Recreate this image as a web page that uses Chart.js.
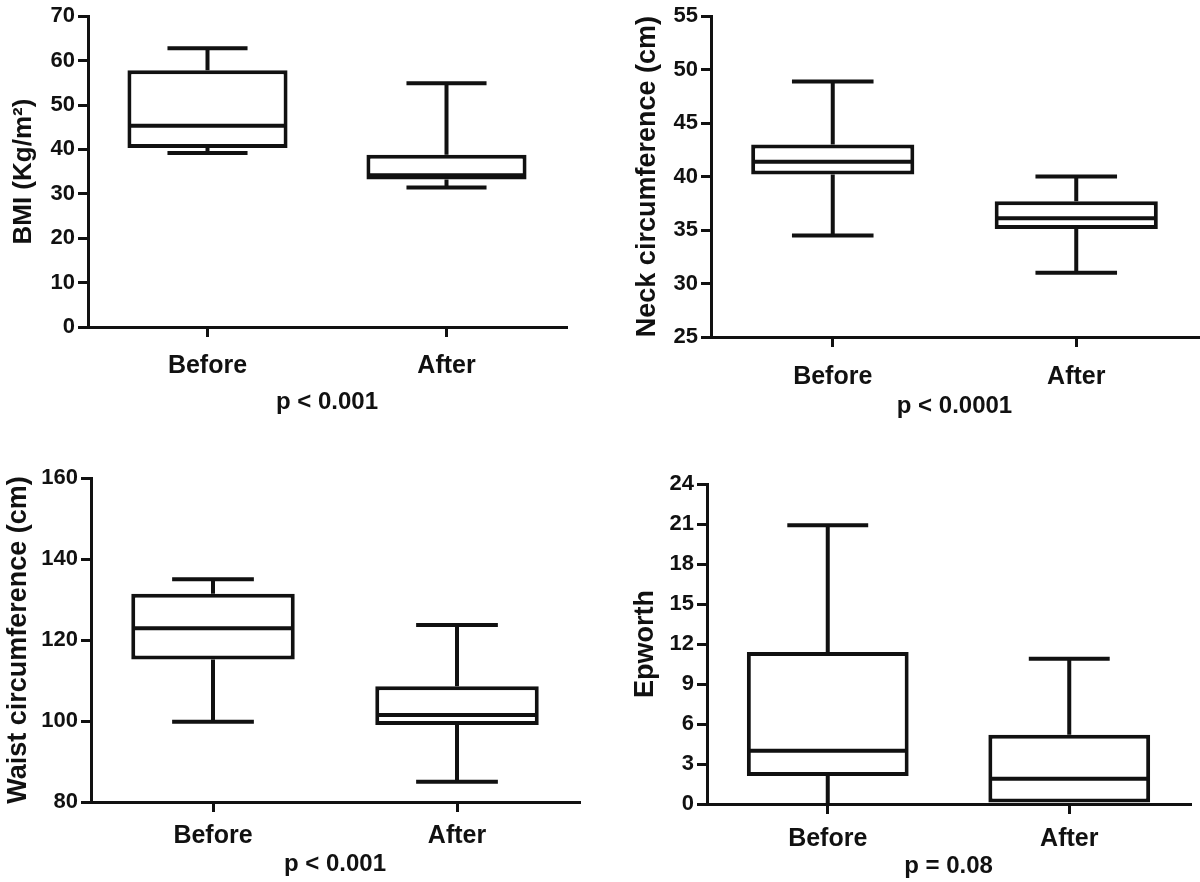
<!DOCTYPE html>
<html>
<head>
<meta charset="utf-8">
<script src="https://cdn.jsdelivr.net/npm/chart.js@4.4.1/dist/chart.umd.min.js"></script>
<style>
html, body { margin: 0; padding: 0; background: #fff; }
#wrap { position: relative; width: 1200px; height: 882px; overflow: hidden; }
.panel { position: absolute; width: 600px; height: 441px; }
.panel canvas { display: block; }
</style>
</head>
<body>
<div id="wrap">
	<div class="panel" style="left:0;top:0"><canvas id="c-bmi" width="600" height="441"></canvas></div>
	<div class="panel" style="left:600px;top:0"><canvas id="c-neck" width="600" height="441"></canvas></div>
	<div class="panel" style="left:0;top:441px"><canvas id="c-waist" width="600" height="441"></canvas></div>
	<div class="panel" style="left:600px;top:441px"><canvas id="c-epw" width="600" height="441"></canvas></div>
</div>
<script>
// Categorie
var categories = ['Before', 'After'];

// Box plot: [min, Q1, mediana, Q3, max]
var bmiBefore = [39.2, 40.3, 45.3, 57.8, 62.8];
var bmiAfter = [31.4, 33.2, 34.2, 38.8, 54.9];

var neckBefore = [34.5, 40.2, 41.4, 43.0, 48.9];
var neckAfter = [31.0, 35.1, 36.1, 37.7, 40.0];

var waistBefore = [99.8, 115.2, 122.9, 131.4, 135.0];
var waistAfter = [85.0, 99.0, 101.5, 108.6, 123.7];

var epwBefore = [0, 2.1, 4.0, 11.4, 20.9];
var epwAfter = [0, 0, 1.9, 5.2, 10.9];

// Assi y: [min, max, passo]
var bmiTicks = [0, 70, 10];
var neckTicks = [25, 55, 5];
var waistTicks = [80, 160, 20];
var epwTicks = [0, 24, 3];

var FONT = "'Liberation Sans', Arial, sans-serif";
var INK = '#111';

function $each(arr, fn) { for (var i = 0; i < arr.length; i++) fn(i, arr[i]); }

// baffi e mediana disegnati sulle scale del grafico
var boxWhiskers = {
	id: 'boxWhiskers',
	afterDatasetsDraw: function(chart) {
		var ctx = chart.ctx;
		var y = chart.scales.y;
		var stats = chart.data.datasets[0].stats;
		ctx.save();
		ctx.strokeStyle = INK;
		ctx.lineWidth = 4;
		ctx.lineCap = 'butt';
		$each(chart.getDatasetMeta(0).data, function(i, bar) {
			var s = stats[i];
			var p = bar.getProps(['x', 'width'], true);
			var half = p.width / 2, cap = p.width / 4;
			var yMin = y.getPixelForValue(s[0]);
			var yQ1 = y.getPixelForValue(s[1]);
			var yMed = y.getPixelForValue(s[2]);
			var yQ3 = y.getPixelForValue(s[3]);
			var yMax = y.getPixelForValue(s[4]);
			ctx.beginPath();
			// baffo inferiore (niente cappello se coincide con l'asse)
			if (s[1] > s[0]) {
				ctx.moveTo(p.x, yQ1); ctx.lineTo(p.x, yMin);
				if (s[0] > y.min) { ctx.moveTo(p.x - cap, yMin); ctx.lineTo(p.x + cap, yMin); }
			}
			// baffo superiore
			ctx.moveTo(p.x, yQ3); ctx.lineTo(p.x, yMax);
			ctx.moveTo(p.x - cap, yMax); ctx.lineTo(p.x + cap, yMax);
			// mediana
			ctx.moveTo(p.x - half + 2, yMed); ctx.lineTo(p.x + half - 2, yMed);
			ctx.stroke();
		});
		ctx.restore();
	}
};

const draw_boxChart = function(id, yTitle, pText, before, after, ticks, lay) {
	var ctx = document.getElementById(id).getContext('2d');
	var stats = [before, after];
	var boxes = [];
	$each(stats, function(i, s) { boxes.push([s[1], s[3]]); });

	return new Chart(ctx, {
		type: 'bar',
		data: {
			labels: categories,
			datasets: [{
				data: boxes,
				stats: stats,
				backgroundColor: '#fff',
				borderColor: INK,
				borderWidth: 4,
				borderSkipped: false,
				barPercentage: 0.67,
				categoryPercentage: 1.0
			}]
		},
		options: {
			responsive: false,
			animation: false,
			devicePixelRatio: 1,
			layout: { padding: { left: 0, top: lay.top, right: lay.right, bottom: 0 } },
			plugins: { legend: { display: false }, tooltip: { enabled: false } },
			scales: {
				x: {
					afterFit: function(s) { s.height = lay.xh; },
					grid: { display: true, drawOnChartArea: false, offset: false, color: INK, lineWidth: 3, tickLength: 10 },
					border: { display: true, color: INK, width: 3 },
					ticks: { color: INK, padding: lay.xpad, font: { family: FONT, size: 25, weight: 'bold' } },
					title: { display: true, text: pText, color: INK, padding: { top: 0, bottom: lay.ppad }, font: { family: FONT, size: 24, weight: 'bold' } }
				},
				y: {
					min: ticks[0],
					max: ticks[1],
					afterFit: function(s) { s.width = lay.left; },
					grid: { display: true, drawOnChartArea: false, color: INK, lineWidth: 3, tickLength: 10 },
					border: { display: true, color: INK, width: 3 },
					ticks: { stepSize: ticks[2], color: INK, padding: 3, font: { family: FONT, size: 22, weight: 'bold' } },
					title: { display: true, text: yTitle, color: INK, padding: { top: lay.tpad, bottom: 0 }, font: { family: FONT, size: lay.tsize, weight: 'bold' } }
				}
			}
		},
		plugins: [boxWhiskers]
	});
};

draw_boxChart('c-bmi', 'BMI (Kg/m\u00B2)', 'p < 0.001', bmiBefore, bmiAfter, bmiTicks,
	{ left: 88, top: 12, right: 34, xh: 114, xpad: 14, ppad: 24, tpad: 8, tsize: 26 });
draw_boxChart('c-neck', 'Neck circumference (cm)', 'p < 0.0001', neckBefore, neckAfter, neckTicks,
	{ left: 111, top: 13, right: 2, xh: 104, xpad: 15, ppad: 20, tpad: 31, tsize: 27 });
draw_boxChart('c-waist', 'Waist circumference (cm)', 'p < 0.001', waistBefore, waistAfter, waistTicks,
	{ left: 91, top: 37, right: 21, xh: 80, xpad: 9, ppad: 3, tpad: 2, tsize: 27 });
draw_boxChart('c-epw', 'Epworth', 'p = 0.08', epwBefore, epwAfter, epwTicks,
	{ left: 107, top: 43, right: 10, xh: 78, xpad: 10, ppad: 1, tpad: 29, tsize: 27 });
</script>
</body>
</html>
